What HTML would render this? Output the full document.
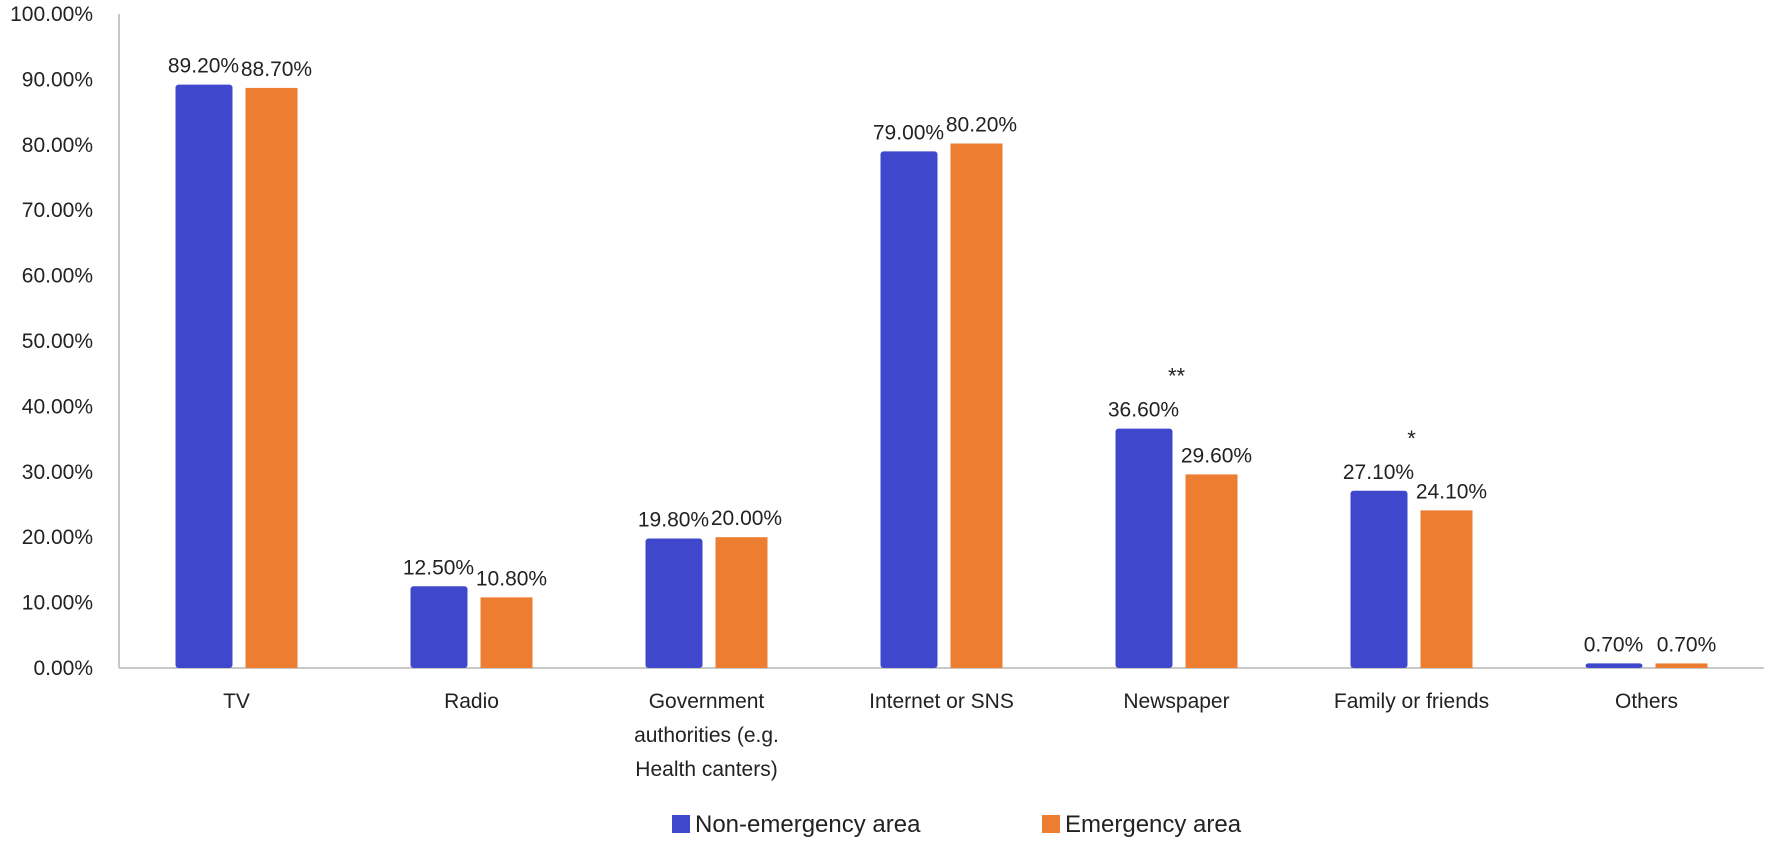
<!DOCTYPE html>
<html><head><meta charset="utf-8"><style>
html,body{margin:0;padding:0;background:#fff;}
svg{display:block;font-family:"Liberation Sans",sans-serif;}
</style></head><body>
<svg id="chart" width="1772" height="843">
<g id="axes"></g><g id="bars"></g><g id="labels"></g>
<g>
<rect x="672" y="815" width="18" height="18" fill="#3f48cc"/>
<text x="695" y="832" font-size="24" fill="#222">Non-emergency area</text>
<rect x="1042" y="815" width="18" height="18" fill="#ed7d31"/>
<text x="1065" y="832" font-size="24" fill="#222">Emergency area</text>
</g>
</svg>
<script>
const categories=[["TV"],["Radio"],["Government","authorities (e.g.","Health canters)"],["Internet or SNS"],["Newspaper"],["Family or friends"],["Others"]];
const nonEmergency=[89.2,12.5,19.8,79.0,36.6,27.1,0.7];
const emergency=[88.7,10.8,20.0,80.2,29.6,24.1,0.7];
const significance=["","","","","**","*",""];
const yTicks=[0,10,20,30,40,50,60,70,80,90,100];
const NS="http://www.w3.org/2000/svg";
const x0=119,catW=235,y0=668,pxPer=6.54;
const y=v=>y0-v*pxPer;
const cx=i=>x0+catW*(i+0.5);
function mk(tag,attrs,parent,txt){const e=document.createElementNS(NS,tag);for(const k in attrs)e.setAttribute(k,attrs[k]);if(txt!==undefined)e.textContent=txt;parent.appendChild(e);return e;}
const axes=document.getElementById('axes'),bars=document.getElementById('bars'),labels=document.getElementById('labels');
let a=mk('line',{x1:x0,y1:y(100),x2:x0,y2:y0,stroke:'#c8c8c8','stroke-width':2},axes);


a=mk('line',{x1:x0,y1:y0,x2:x0+catW*7,y2:y0,stroke:'#c8c8c8','stroke-width':2},axes);


yTicks.forEach(t=>{const e=mk('text',{x:93,y:y(t)+7,'text-anchor':'end','font-size':21,fill:'#222'},axes,t.toFixed(2)+'%');

});
categories.forEach((lines,i)=>{
 const c=cx(i);
 const h1=y0-y(nonEmergency[i]),h2=y0-y(emergency[i]);
 let b=mk('rect',{x:c-61,y:y(nonEmergency[i]),width:57,height:h1,rx:3,fill:'#3f48cc'},bars);
 
 
 b=mk('rect',{x:c+9,y:y(emergency[i]),width:52,height:h2,fill:'#ed7d31'},bars);
 
 
 let t=mk('text',{x:c-33,y:y(nonEmergency[i])-12,'text-anchor':'middle','font-size':21,fill:'#222'},labels,nonEmergency[i].toFixed(2)+'%');
 
 
 t=mk('text',{x:c+40,y:y(emergency[i])-12,'text-anchor':'middle','font-size':21,fill:'#222'},labels,emergency[i].toFixed(2)+'%');
 
 
 if(significance[i]){t=mk('text',{x:c,y:y(Math.max(nonEmergency[i],emergency[i]))-45,'text-anchor':'middle','font-size':22,fill:'#222'},labels,significance[i]);
 
 }
 lines.forEach((ln,k)=>{t=mk('text',{x:c,y:708+k*34,'text-anchor':'middle','font-size':21,fill:'#222'},labels,ln);
 
 });
});
</script>
</body></html>
